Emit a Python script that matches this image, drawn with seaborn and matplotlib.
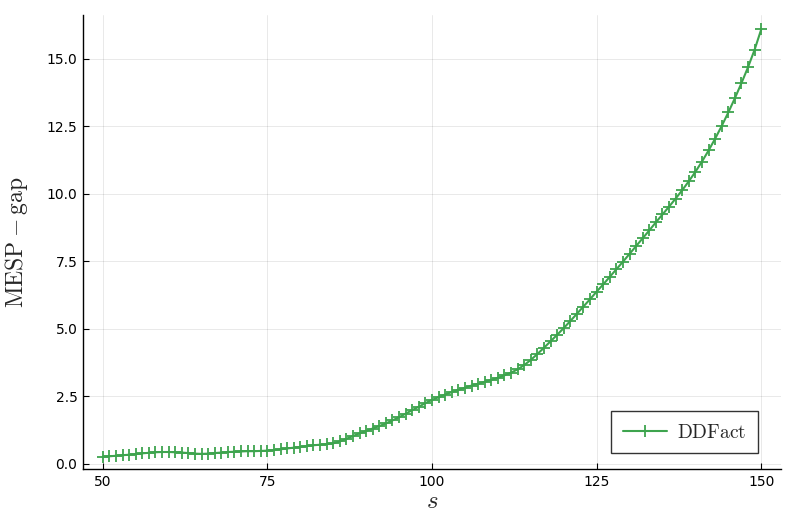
import numpy as np
import pandas as pd
import seaborn as sns
import matplotlib
matplotlib.use("Agg")
import matplotlib.pyplot as plt

# values
s_values = list(range(50, 151))
gap_values = [
    0.26, 0.28, 0.30, 0.32, 0.34, 0.36, 0.39, 0.41, 0.43, 0.44,
    0.44, 0.43, 0.42, 0.40, 0.38, 0.37, 0.38, 0.40, 0.42, 0.44,
    0.45, 0.46, 0.47, 0.47, 0.48, 0.49, 0.51, 0.54, 0.57, 0.60,
    0.63, 0.66, 0.69, 0.71, 0.73, 0.76, 0.83, 0.93, 1.03, 1.13,
    1.22, 1.31, 1.40, 1.50, 1.61, 1.73, 1.86, 1.99, 2.12, 2.25,
    2.37, 2.47, 2.57, 2.66, 2.74, 2.82, 2.90, 2.97, 3.04, 3.11,
    3.19, 3.28, 3.38, 3.50, 3.66, 3.85, 4.07, 4.30, 4.54, 4.78,
    5.03, 5.29, 5.56, 5.83, 6.10, 6.38, 6.65, 6.93, 7.21, 7.49,
    7.78, 8.07, 8.36, 8.65, 8.95, 9.24, 9.53, 9.83, 10.14, 10.47,
    10.82, 11.20, 11.61, 12.05, 12.52, 13.02, 13.55, 14.11, 14.70, 15.35,
    16.10,
]
x_ticks = [50, 75, 100, 125, 150]
y_ticks = [0.0, 2.5, 5.0, 7.5, 10.0, 12.5, 15.0]

df = pd.DataFrame({"s": s_values, "gap": gap_values})

sns.set_style("white")
plt.rcParams["font.family"] = ["DejaVu Sans"]
plt.rcParams["mathtext.fontset"] = "cm"

fig = plt.figure(figsize=(7.97, 5.32), dpi=100)
ax = fig.add_axes([83 / 797, 1 - 469 / 532, (781 - 83) / 797, (469 - 15) / 532])

sns.lineplot(data=df, x="s", y="gap", ax=ax, color="#3EA44E", marker="+",
             markersize=9, markeredgewidth=1.3, linewidth=1.5,
             markeredgecolor="#3EA44E", label=r"$\mathrm{DDFact}$")

ax.set_xlim(47.0, 153.0)
ax.set_ylim(-0.19, 16.63)
ax.set_xticks(x_ticks)
ax.set_yticks(y_ticks)
ax.set_yticklabels([f"{v:.1f}" for v in y_ticks])
ax.grid(True, color="black", alpha=0.1, linewidth=0.6)
for side in ["top", "right"]:
    ax.spines[side].set_visible(False)
for side in ["left", "bottom"]:
    ax.spines[side].set_color("black")
    ax.spines[side].set_linewidth(1.0)
ax.tick_params(direction="in", length=4, width=0.8, color="black",
               labelsize=10, labelcolor="black", left=True, bottom=True, pad=4)

ax.set_xlabel(r"$s$", fontsize=18, labelpad=0)
ax.set_ylabel(r"$\mathrm{MESP} - \mathrm{gap}$", fontsize=17, labelpad=12)

leg = ax.legend(loc="lower right", fontsize=14, frameon=True, fancybox=False,
                borderpad=0.6, handlelength=2.3, handletextpad=0.5,
                bbox_to_anchor=(0.981, 0.013))
leg.get_frame().set_edgecolor("black")
leg.get_frame().set_linewidth(1.0)

fig.savefig("out.png", dpi=100)
